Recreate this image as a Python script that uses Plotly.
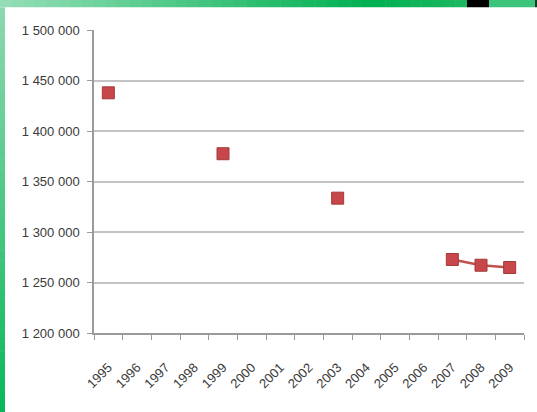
import plotly.graph_objects as go

years = [str(y) for y in range(1995, 2010)]
values = [1437800, None, None, None, 1377500, None, None, None, 1333500,
          None, None, None, 1272800, 1267100, 1264850]
y_ticks = [1200000, 1250000, 1300000, 1350000, 1400000, 1450000, 1500000]
y_labels = ["1 200 000", "1 250 000", "1 300 000", "1 350 000",
            "1 400 000", "1 450 000", "1 500 000"]

W, H = 537, 412
L, R, T, B = 94, 524, 30, 333


def px(x):
    return (x - L) / (R - L)


def py(y):
    return (B - y) / (B - T)


def lerp(c1, c2, t):
    return "rgb(%d,%d,%d)" % tuple(round(a + (b - a) * t) for a, b in zip(c1, c2))


shapes = []
# top gradient band
n = 40
stops = [(0, (150, 222, 184)), (370, (0, 176, 80)), (467, (30, 184, 96))]
for i in range(n):
    x0 = 467 * i / n
    x1 = 467 * (i + 1) / n + 0.5
    xm = (x0 + x1) / 2
    if xm < 370:
        c = lerp(stops[0][1], stops[1][1], xm / 370)
    else:
        c = lerp(stops[1][1], stops[2][1], (xm - 370) / 97)
    shapes.append(dict(type="rect", xref="paper", yref="paper", x0=px(x0), x1=px(x1),
                       y0=py(7.5), y1=py(0), fillcolor=c, line_width=0, layer="below"))
shapes.append(dict(type="rect", xref="paper", yref="paper", x0=px(467), x1=px(489),
                   y0=py(7.5), y1=py(0), fillcolor="black", line_width=0, layer="below"))
shapes.append(dict(type="rect", xref="paper", yref="paper", x0=px(489), x1=px(535),
                   y0=py(7.5), y1=py(0), fillcolor="rgb(60,196,122)", line_width=0, layer="below"))
shapes.append(dict(type="rect", xref="paper", yref="paper", x0=px(535), x1=px(537),
                   y0=py(7.5), y1=py(0), fillcolor="rgb(20,60,40)", line_width=0, layer="below"))
# left gradient band
m = 40
for i in range(m):
    y0 = 7.5 + (H - 7.5) * i / m
    y1 = 7.5 + (H - 7.5) * (i + 1) / m + 0.5
    t = ((y0 + y1) / 2 - 7.5) / (H - 7.5)
    c = lerp((142, 216, 176), (8, 184, 88), t)
    shapes.append(dict(type="rect", xref="paper", yref="paper", x0=px(0), x1=px(5),
                       y0=py(y1), y1=py(y0), fillcolor=c, line_width=0, layer="below"))
# white panel
shapes.append(dict(type="rect", xref="paper", yref="paper", x0=px(5), x1=px(537),
                   y0=py(H), y1=py(7.5), fillcolor="white", line_width=0, layer="below"))

fig = go.Figure()
fig.add_trace(go.Scatter(
    x=years, y=values, mode="lines+markers", connectgaps=False,
    line=dict(color="#c0504d", width=2.5),
    marker=dict(symbol="square", size=12, color="#c8474a",
                line=dict(color="#a33a3a", width=1)),
    showlegend=False, hoverinfo="x+y",
))

fig.update_layout(
    width=W, height=H,
    margin=dict(l=L, r=W - R, t=T, b=H - B),
    paper_bgcolor="white",
    plot_bgcolor="rgba(0,0,0,0)",
    shapes=shapes,
    font=dict(family="Liberation Sans, Arial, sans-serif",
              size=13, color="#3a3a3a"),
)
fig.update_xaxes(
    type="category", categoryorder="array", categoryarray=years,
    range=[-0.5, 14.5], tickson="boundaries", ticks="outside", ticklen=5,
    tickcolor="#9a9a9a", showline=True, linecolor="#9a9a9a", linewidth=1.5,
    showgrid=False, tickangle=-45, zeroline=False, ticklabelstandoff=20,
)
fig.update_yaxes(
    range=[1200000, 1500000], tickvals=y_ticks, ticktext=y_labels,
    ticks="outside", ticklen=5, tickcolor="#9a9a9a",
    showline=True, linecolor="#9a9a9a", linewidth=1.5,
    showgrid=True, gridcolor="#c4c4c4", gridwidth=1.5, zeroline=False,
    ticklabelstandoff=5,
)

fig.write_html("out.html", config={"displayModeBar": False},
               post_script="document.body.style.margin='0';")
